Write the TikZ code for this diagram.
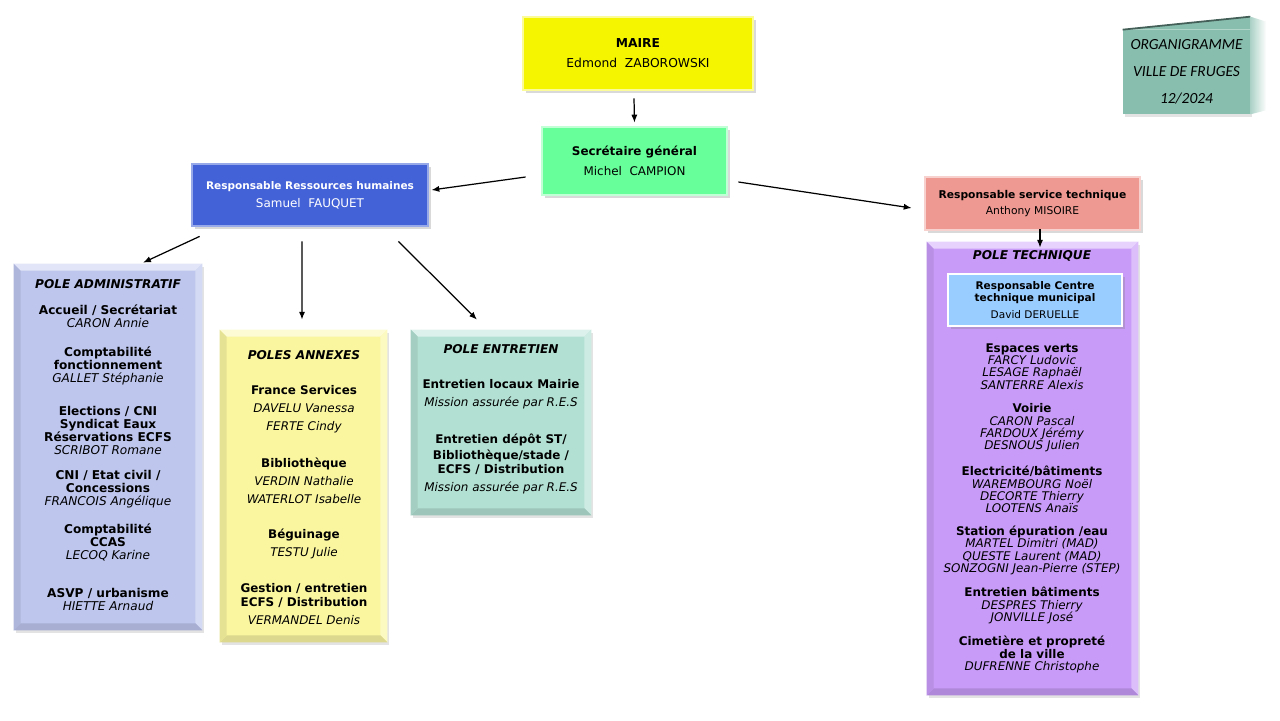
\documentclass[tikz,border=0pt]{standalone}
\usepackage{fontspec}
\setmainfont{DejaVu Sans}
\newfontfamily\calib{Carlito}
\usetikzlibrary{arrows.meta,shadows}

\definecolor{mairecol}{RGB}{245,245,0}
\definecolor{titlecol}{RGB}{136,190,174}
\definecolor{seccol}{RGB}{102,255,153}
\definecolor{rhcol}{RGB}{68,98,216}
\definecolor{techcol}{RGB}{238,153,146}
\definecolor{admincol}{RGB}{190,198,238}
\definecolor{annexcol}{RGB}{250,246,160}
\definecolor{entrcol}{RGB}{178,224,210}
\definecolor{polecol}{RGB}{200,155,248}
\definecolor{ctmcol}{RGB}{153,204,255}

\tikzset{
  chief/.style={rectangle, inner sep=0pt, align=center, line width=1.6pt,
    drop shadow={shadow xshift=1.5pt, shadow yshift=-1.5pt, opacity=0.3}},
  pole/.style={rectangle, inner sep=0pt,
    drop shadow={shadow xshift=1.2pt, shadow yshift=-1.5pt, opacity=0.22}},
  arr/.style={-{Latex[length=4.5pt,width=3.5pt]}, line width=0.7pt},
  head/.style={inner sep=0pt, font=\bfseries\itshape\fontsize{6.9}{7.4}\selectfont},
  grp/.style={align=center, inner sep=0pt, font=\bfseries\fontsize{6.9}{7.4}\selectfont},
  grpb/.style={align=center, inner sep=0pt, font=\bfseries\fontsize{6.8}{10.2}\selectfont},
  grpt/.style={align=center, inner sep=0pt, font=\bfseries\fontsize{6.8}{7}\selectfont},
}
\newcommand{\nm}[1]{{\mdseries\itshape #1}}
% bevelled edges of a box: node, colour, width in px
\newcommand{\bevel}[3]{%
  \fill[#2!45!white] (#1.north west) -- (#1.north east) -- ([shift={(-#3,#3)}]#1.north east) -- ([shift={(#3,#3)}]#1.north west) -- cycle;
  \fill[#2!65!white] (#1.north east) -- (#1.south east) -- ([shift={(-#3,-#3)}]#1.south east) -- ([shift={(-#3,#3)}]#1.north east) -- cycle;
  \fill[#2!88!black] (#1.south east) -- (#1.south west) -- ([shift={(#3,-#3)}]#1.south west) -- ([shift={(-#3,-#3)}]#1.south east) -- cycle;
  \fill[#2!92!black] (#1.south west) -- (#1.north west) -- ([shift={(#3,#3)}]#1.north west) -- ([shift={(#3,-#3)}]#1.south west) -- cycle;
}

\begin{document}
\begin{tikzpicture}[x=0.02cm,y=-0.02cm]
  \useasboundingbox (0,0) rectangle (1280,720);

  % Top of the chart
  \node[chief, fill=mairecol, draw=mairecol!40!white, minimum width=4.6cm, minimum height=1.46cm,
        font=\fontsize{7}{11.3}\selectfont] (maire) at (638,53.5)
        {\textbf{MAIRE}\\Edmond~~ZABOROWSKI};
  \node[chief, fill=seccol, draw=seccol!40!white, minimum width=3.7cm, minimum height=1.36cm,
        font=\fontsize{6.8}{11.3}\selectfont] (sec) at (634.5,161)
        {\textbf{Secrétaire général}\\Michel~~CAMPION};
  \node[chief, fill=rhcol, draw=rhcol!55!white, minimum width=4.72cm, minimum height=1.24cm,
        text=white, font=\fontsize{6}{10.2}\selectfont] (rh) at (310,195)
        {\textbf{Responsable Ressources humaines}\\{\fontsize{6.8}{10.2}\selectfont Samuel~~FAUQUET}};
  \node[chief, fill=techcol, draw=techcol!45!white, minimum width=4.3cm, minimum height=1.06cm,
        font=\fontsize{6.1}{9.6}\selectfont] (tech) at (1032.5,203.5)
        {\textbf{Responsable service technique}\\Anthony MISOIRE};

  % Title block
  \node[pole, fill=titlecol, minimum width=2.54cm, minimum height=1.68cm, align=center,
        font=\calib\itshape\fontsize{8.8}{15.3}\selectfont] (title) at (1186.5,72)
        {ORGANIGRAMME\\VILLE DE FRUGES\\12/2024};
  \fill[titlecol] (title.north west) -- ([shift={(0,-13)}]title.north east) -- (title.north east) -- cycle;
  \draw[titlecol!50!black, line width=1pt] (title.north west) -- ([shift={(0,-13)}]title.north east);
  \shade[left color=titlecol!70!white, right color=white]
        ([shift={(0,-13)}]title.north east) -- ++(16,5) -- ([shift={(16,-4)}]title.south east)
        -- (title.south east) -- cycle;

  % Poles
  \node[pole, fill=admincol, minimum width=3.76cm, minimum height=7.32cm] (admin) at (108,447) {};
  \bevel{admin}{admincol}{7}
  \node[pole, fill=annexcol, minimum width=3.34cm, minimum height=6.24cm] (annex) at (303.5,486) {};
  \bevel{annex}{annexcol}{7}
  \node[pole, fill=entrcol, minimum width=3.6cm, minimum height=3.7cm] (entr) at (501,422.5) {};
  \bevel{entr}{entrcol}{7}
  \node[pole, fill=polecol, minimum width=4.22cm, minimum height=9.06cm] (pole) at (1032.5,468.5) {};
  \bevel{pole}{polecol}{7}
  \node[chief, fill=ctmcol, draw=white, minimum width=3.48cm, minimum height=1.04cm,
        font=\fontsize{6}{6.8}\selectfont] (ctm) at (1035,300)
        {\textbf{Responsable Centre}\\\textbf{technique municipal}\\[2.6pt]David DERUELLE};

  % Pole administratif
  \node[head] (adminhead) at (108,284) {POLE ADMINISTRATIF};
  \node[grp] (accueil) at (108,316.5) {Accueil / Secrétariat\\\nm{CARON Annie}};
  \node[grp] (compta) at (108,366) {Comptabilité\\fonctionnement\\\nm{GALLET Stéphanie}};
  \node[grp] (elections) at (108,430.5) {Elections / CNI\\Syndicat Eaux\\Réservations ECFS\\\nm{SCRIBOT Romane}};
  \node[grp] (etatcivil) at (108,489) {CNI / Etat civil /\\Concessions\\\nm{FRANCOIS Angélique}};
  \node[grp] (ccas) at (108,542.5) {Comptabilité\\CCAS\\\nm{LECOQ Karine}};
  \node[grp] (asvp) at (108,599.5) {ASVP / urbanisme\\\nm{HIETTE Arnaud}};

  % Poles annexes
  \node[head] (annexhead) at (304,355) {POLES ANNEXES};
  \node[grpb] (france) at (304,409) {France Services\\\nm{DAVELU Vanessa}\\\nm{FERTE Cindy}};
  \node[grpb] (biblio) at (304,481) {Bibliothèque\\\nm{VERDIN Nathalie}\\\nm{WATERLOT Isabelle}};
  \node[grpb] (beguinage) at (304,544) {Béguinage\\\nm{TESTU Julie}};
  \node[grpb] (gestion) at (304,604) {Gestion / entretien\\[-2.3pt]ECFS / Distribution\\\nm{VERMANDEL Denis}};

  % Pole entretien
  \node[head] (entrhead) at (501,349) {POLE ENTRETIEN};
  \node[grpb] (locaux) at (501,394) {Entretien locaux Mairie\\\nm{Mission assurée par R.E.S}};
  \node[grpb] (depot) at (501,464) {Entretien dépôt ST/\\[-1.1pt]Bibliothèque/stade /\\[-2.3pt]ECFS / Distribution\\\nm{Mission assurée par R.E.S}};

  % Pole technique
  \node[head] (polehead) at (1032,256) {POLE TECHNIQUE};
  \node[grpt] (verts) at (1032,366.5) {Espaces verts\\\nm{FARCY Ludovic}\\\nm{LESAGE Raphaël}\\\nm{SANTERRE Alexis}};
  \node[grpt] (voirie) at (1032,428) {Voirie\\\nm{CARON Pascal}\\\nm{FARDOUX Jérémy}\\\nm{DESNOUS Julien}};
  \node[grpt] (elec) at (1032,489.5) {Electricité/bâtiments\\\nm{WAREMBOURG Noël}\\\nm{DECORTE Thierry}\\\nm{LOOTENS Anaïs}};
  \node[grpt] (station) at (1032,550.5) {Station épuration /eau\\\nm{MARTEL Dimitri (MAD)}\\\nm{QUESTE Laurent (MAD)}\\\nm{SONZOGNI Jean-Pierre (STEP)}};
  \node[grpt] (batiments) at (1032,605.5) {Entretien bâtiments\\\nm{DESPRES Thierry}\\\nm{JONVILLE José}};
  \node[grpt] (cimetiere) at (1032,654.5) {Cimetière et propreté\\de la ville\\\nm{DUFRENNE Christophe}};

  % Arrows
  \draw[arr] ([xshift=-0.08cm,yshift=-0.14cm]maire.south) -- ([yshift=0.06cm]sec.north);
  \draw[arr] ([xshift=-0.3cm,yshift=-0.32cm]sec.west) -- ([xshift=0.04cm,yshift=0.1cm]rh.east);
  \draw[arr] ([xshift=0.2cm,yshift=-0.42cm]sec.east) -- ([xshift=-0.24cm,yshift=-0.09cm]tech.west);
  \draw[arr] ([xshift=0.15cm,yshift=0.04cm]tech.south) -- ([xshift=0.15cm,yshift=-0.12cm]pole.north);
  \draw[arr] ([xshift=0.18cm,yshift=-0.18cm]rh.south west) -- ([xshift=0.7cm,yshift=0.02cm]admin.north);
  \draw[arr] ([xshift=-0.16cm,yshift=-0.28cm]rh.south) -- ([xshift=-0.03cm,yshift=0.2cm]annex.north);
  \draw[arr] ([xshift=-0.62cm,yshift=-0.28cm]rh.south east) -- ([xshift=-0.48cm,yshift=0.2cm]entr.north);
\end{tikzpicture}
\end{document}
